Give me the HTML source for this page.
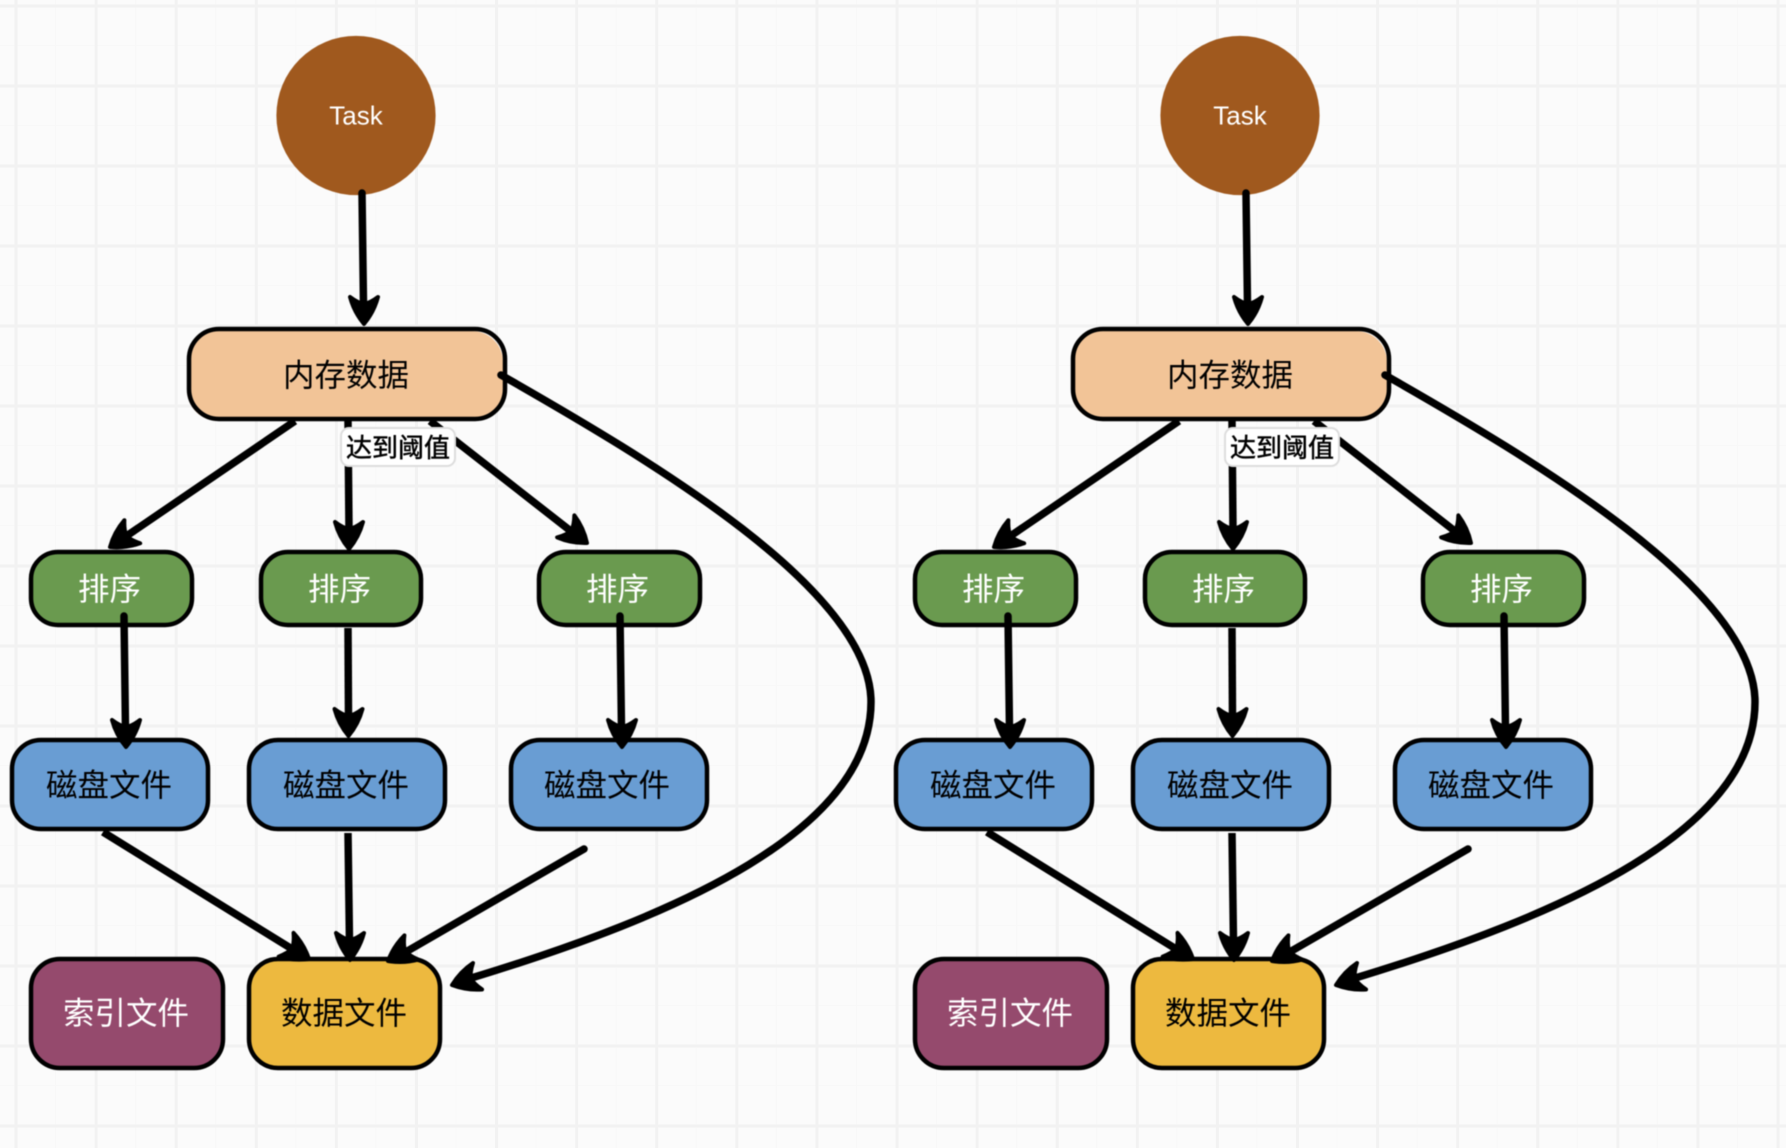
<!DOCTYPE html>
<html><head><meta charset="utf-8"><style>
html,body{margin:0;padding:0;width:1786px;height:1148px;overflow:hidden}
body{background-color:#fbfbfb;background-image:
linear-gradient(90deg,#f2f2f2 3px,transparent 3px),
linear-gradient(0deg,#f2f2f2 3px,transparent 3px),
linear-gradient(90deg,#f8f8f8 1px,transparent 1px),
linear-gradient(0deg,#f8f8f8 1px,transparent 1px);
background-size:80.1px 80px;
background-position:14.5px 0,0 7.5px,55px 0,0 46px}
svg{position:absolute;left:0;top:0}
text{font-family:"Liberation Sans","Noto Sans CJK SC",sans-serif;text-anchor:middle;dominant-baseline:central}
.t{font-size:31.5px}
.w{fill:#fff}
.b{stroke:#000;stroke-width:4.5;fill:none}
.l{stroke:#000;stroke-width:7.5;fill:none;stroke-linecap:round}
.s{stroke-linecap:butt}
.h{fill:#000;stroke:#000;stroke-width:4;stroke-linejoin:round}
.g{filter:blur(.5px)}
</style></head><body>
<svg width="1786" height="1148" viewBox="0 0 1786 1148" xmlns="http://www.w3.org/2000/svg">
<g class="g">
<ellipse cx="356" cy="115.5" rx="79.6" ry="79.6" fill="#a0591e"/>
<text x="356" y="115.5" font-size="26" class="w">Task</text>
<rect x="188" y="330" width="316" height="90" rx="31" fill="#f2c497" transform="translate(-1,1)"/><rect x="189" y="329" width="316" height="90" rx="30" class="b"/>
<text x="346" y="375" class="t">内存数据</text>
<rect x="29" y="553" width="162" height="73" rx="28" fill="#6a9a4f"/><rect x="31" y="552" width="161" height="73" rx="27" class="b"/>
<rect x="260" y="553" width="161" height="73" rx="28" fill="#6a9a4f"/><rect x="261" y="552" width="160" height="73" rx="27" class="b"/>
<rect x="538" y="553" width="162" height="73" rx="28" fill="#6a9a4f"/><rect x="539" y="552" width="161" height="73" rx="27" class="b"/>
<text x="109.5" y="589" class="t w">排序</text><text x="339.5" y="589" class="t w">排序</text><text x="617.5" y="589" class="t w">排序</text>
<rect x="11" y="740" width="198" height="90" rx="30" fill="#699dd3"/><rect x="12" y="740" width="196" height="89" rx="29" class="b"/>
<rect x="248" y="740" width="198" height="90" rx="30" fill="#699dd3"/><rect x="249" y="740" width="196" height="89" rx="29" class="b"/>
<rect x="510" y="740" width="198" height="90" rx="30" fill="#699dd3"/><rect x="511" y="740" width="196" height="89" rx="29" class="b"/>
<text x="109" y="785" class="t">磁盘文件</text><text x="346" y="785" class="t">磁盘文件</text><text x="607" y="785" class="t">磁盘文件</text>
<rect x="30" y="959" width="193" height="110" rx="30" fill="#954a6d"/><rect x="31" y="959" width="192" height="109" rx="29" class="b"/>
<text x="126" y="1013" class="t w">索引文件</text>
<rect x="248" y="959" width="193" height="110" rx="30" fill="#edb93f"/><rect x="249" y="959" width="191" height="109" rx="29" class="b"/>
<text x="344" y="1013" class="t">数据文件</text>
<path class="l" d="M362 193L363.5 305"/><path class="h" d="M0 0Q-12 -10 -27 -14Q-21 -6 -20 0Q-21 6 -27 14Q-12 10 0 0Z" transform="translate(364,324) rotate(90)"/>
<path class="l s" d="M295 421L125 537"/><path class="h" d="M0 0Q-12 -10 -27 -14Q-21 -6 -20 0Q-21 6 -27 14Q-12 10 0 0Z" transform="translate(110,547) rotate(145.6)"/>
<path class="l s" d="M348 421L349 530"/><path class="h" d="M0 0Q-12 -10 -27 -14Q-21 -6 -20 0Q-21 6 -27 14Q-12 10 0 0Z" transform="translate(349,549) rotate(90)"/>
<path class="l s" d="M430 421L572 532"/><path class="h" d="M0 0Q-12 -10 -27 -14Q-21 -6 -20 0Q-21 6 -27 14Q-12 10 0 0Z" transform="translate(587,543) rotate(38)"/>
<path class="l" d="M124 616L125.5 730"/><path class="h" d="M0 0Q-12 -10 -27 -14Q-21 -6 -20 0Q-21 6 -27 14Q-12 10 0 0Z" transform="translate(126,747) rotate(90)"/>
<path class="l s" d="M348 628L348.5 718"/><path class="h" d="M0 0Q-12 -10 -27 -14Q-21 -6 -20 0Q-21 6 -27 14Q-12 10 0 0Z" transform="translate(348.5,736) rotate(90)"/>
<path class="l" d="M620 616L621.5 730"/><path class="h" d="M0 0Q-12 -10 -27 -14Q-21 -6 -20 0Q-21 6 -27 14Q-12 10 0 0Z" transform="translate(622,747) rotate(90)"/>
<path class="l s" d="M103 832L292 949"/><path class="h" d="M0 0Q-12 -10 -27 -14Q-21 -6 -20 0Q-21 6 -27 14Q-12 10 0 0Z" transform="translate(309,959) rotate(32)"/>
<path class="l s" d="M348 833L349.5 943"/><path class="h" d="M0 0Q-12 -10 -27 -14Q-21 -6 -20 0Q-21 6 -27 14Q-12 10 0 0Z" transform="translate(350,960) rotate(90)"/>
<path class="l" d="M584 849L404 953"/><path class="h" d="M0 0Q-12 -10 -27 -14Q-21 -6 -20 0Q-21 6 -27 14Q-12 10 0 0Z" transform="translate(388,961) rotate(150)"/>
<path class="l" d="M501 375C650 460 871 590 871 702C871 830 680 915 468 979"/><path class="h" d="M0 0Q-12 -10 -27 -14Q-21 -6 -20 0Q-21 6 -27 14Q-12 10 0 0Z" transform="translate(452,985) rotate(161)"/>
<rect x="341" y="428" width="114" height="38" rx="8" fill="#fff" stroke="#ddd" stroke-width="2"/>
<text x="398" y="448" font-size="26" stroke="#000" stroke-width=".5">达到阈值</text>
</g>
<g class="g" transform="translate(884,0)">
<ellipse cx="356" cy="115.5" rx="79.6" ry="79.6" fill="#a0591e"/>
<text x="356" y="115.5" font-size="26" class="w">Task</text>
<rect x="188" y="330" width="316" height="90" rx="31" fill="#f2c497" transform="translate(-1,1)"/><rect x="189" y="329" width="316" height="90" rx="30" class="b"/>
<text x="346" y="375" class="t">内存数据</text>
<rect x="29" y="553" width="162" height="73" rx="28" fill="#6a9a4f"/><rect x="31" y="552" width="161" height="73" rx="27" class="b"/>
<rect x="260" y="553" width="161" height="73" rx="28" fill="#6a9a4f"/><rect x="261" y="552" width="160" height="73" rx="27" class="b"/>
<rect x="538" y="553" width="162" height="73" rx="28" fill="#6a9a4f"/><rect x="539" y="552" width="161" height="73" rx="27" class="b"/>
<text x="109.5" y="589" class="t w">排序</text><text x="339.5" y="589" class="t w">排序</text><text x="617.5" y="589" class="t w">排序</text>
<rect x="11" y="740" width="198" height="90" rx="30" fill="#699dd3"/><rect x="12" y="740" width="196" height="89" rx="29" class="b"/>
<rect x="248" y="740" width="198" height="90" rx="30" fill="#699dd3"/><rect x="249" y="740" width="196" height="89" rx="29" class="b"/>
<rect x="510" y="740" width="198" height="90" rx="30" fill="#699dd3"/><rect x="511" y="740" width="196" height="89" rx="29" class="b"/>
<text x="109" y="785" class="t">磁盘文件</text><text x="346" y="785" class="t">磁盘文件</text><text x="607" y="785" class="t">磁盘文件</text>
<rect x="30" y="959" width="193" height="110" rx="30" fill="#954a6d"/><rect x="31" y="959" width="192" height="109" rx="29" class="b"/>
<text x="126" y="1013" class="t w">索引文件</text>
<rect x="248" y="959" width="193" height="110" rx="30" fill="#edb93f"/><rect x="249" y="959" width="191" height="109" rx="29" class="b"/>
<text x="344" y="1013" class="t">数据文件</text>
<path class="l" d="M362 193L363.5 305"/><path class="h" d="M0 0Q-12 -10 -27 -14Q-21 -6 -20 0Q-21 6 -27 14Q-12 10 0 0Z" transform="translate(364,324) rotate(90)"/>
<path class="l s" d="M295 421L125 537"/><path class="h" d="M0 0Q-12 -10 -27 -14Q-21 -6 -20 0Q-21 6 -27 14Q-12 10 0 0Z" transform="translate(110,547) rotate(145.6)"/>
<path class="l s" d="M348 421L349 530"/><path class="h" d="M0 0Q-12 -10 -27 -14Q-21 -6 -20 0Q-21 6 -27 14Q-12 10 0 0Z" transform="translate(349,549) rotate(90)"/>
<path class="l s" d="M430 421L572 532"/><path class="h" d="M0 0Q-12 -10 -27 -14Q-21 -6 -20 0Q-21 6 -27 14Q-12 10 0 0Z" transform="translate(587,543) rotate(38)"/>
<path class="l" d="M124 616L125.5 730"/><path class="h" d="M0 0Q-12 -10 -27 -14Q-21 -6 -20 0Q-21 6 -27 14Q-12 10 0 0Z" transform="translate(126,747) rotate(90)"/>
<path class="l s" d="M348 628L348.5 718"/><path class="h" d="M0 0Q-12 -10 -27 -14Q-21 -6 -20 0Q-21 6 -27 14Q-12 10 0 0Z" transform="translate(348.5,736) rotate(90)"/>
<path class="l" d="M620 616L621.5 730"/><path class="h" d="M0 0Q-12 -10 -27 -14Q-21 -6 -20 0Q-21 6 -27 14Q-12 10 0 0Z" transform="translate(622,747) rotate(90)"/>
<path class="l s" d="M103 832L292 949"/><path class="h" d="M0 0Q-12 -10 -27 -14Q-21 -6 -20 0Q-21 6 -27 14Q-12 10 0 0Z" transform="translate(309,959) rotate(32)"/>
<path class="l s" d="M348 833L349.5 943"/><path class="h" d="M0 0Q-12 -10 -27 -14Q-21 -6 -20 0Q-21 6 -27 14Q-12 10 0 0Z" transform="translate(350,960) rotate(90)"/>
<path class="l" d="M584 849L404 953"/><path class="h" d="M0 0Q-12 -10 -27 -14Q-21 -6 -20 0Q-21 6 -27 14Q-12 10 0 0Z" transform="translate(388,961) rotate(150)"/>
<path class="l" d="M501 375C650 460 871 590 871 702C871 830 680 915 468 979"/><path class="h" d="M0 0Q-12 -10 -27 -14Q-21 -6 -20 0Q-21 6 -27 14Q-12 10 0 0Z" transform="translate(452,985) rotate(161)"/>
<rect x="341" y="428" width="114" height="38" rx="8" fill="#fff" stroke="#ddd" stroke-width="2"/>
<text x="398" y="448" font-size="26" stroke="#000" stroke-width=".5">达到阈值</text>
</g>
</svg>
</body></html>
